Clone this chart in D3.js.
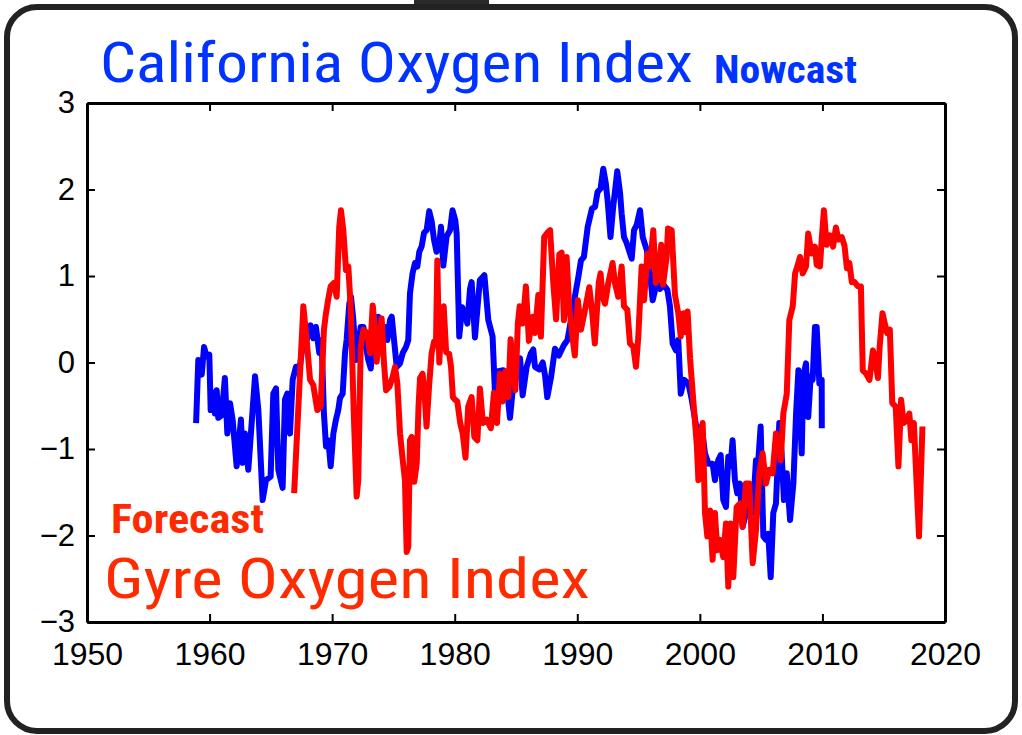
<!DOCTYPE html>
<html>
<head>
<meta charset="utf-8">
<script src="https://cdn.jsdelivr.net/npm/d3@7/dist/d3.min.js"></script>
<style>
  html, body { margin: 0; padding: 0; background: #ffffff; }
  svg { display: block; }
</style>
</head>
<body>
<svg id="chart" width="1022" height="735"></svg>
<script>
// California Oxygen Index (nowcast), year and index value
const californiaYears = [
  1958.9, 1959.08, 1959.36, 1959.55, 1959.76, 1959.98, 1960.09, 1960.3, 1960.44, 1960.58,
  1960.71, 1960.98, 1961.25, 1961.45, 1961.67, 1961.88, 1962.21, 1962.56, 1962.7, 1962.89,
  1963.16, 1963.71, 1963.98, 1964.33, 1964.6, 1964.98, 1965.2, 1965.42, 1965.61, 1965.96,
  1966.15, 1966.34, 1966.56, 1966.78, 1967.05, 1967.37, 1967.65, 1967.92, 1968.24, 1968.46,
  1968.68, 1968.95, 1969.14, 1969.33, 1969.5, 1969.69, 1969.88, 1970.1, 1970.31, 1970.5,
  1970.64, 1970.86, 1971.05, 1971.18, 1971.4, 1971.54, 1971.73, 1971.95, 1972.13, 1972.33,
  1972.55, 1972.76, 1972.95, 1973.15, 1973.36, 1973.63, 1973.77, 1973.96, 1974.12, 1974.31,
  1974.5, 1974.72, 1974.86, 1975.05, 1975.27, 1975.54, 1975.76, 1976.03, 1976.21, 1976.35,
  1976.56, 1976.76, 1976.95, 1977.11, 1977.3, 1977.5, 1977.71, 1977.92, 1978.12, 1978.31,
  1978.52, 1978.74, 1978.88, 1979.07, 1979.34, 1979.62, 1979.82, 1980.05, 1980.16, 1980.37,
  1980.6, 1980.85, 1981.03, 1981.25, 1981.38, 1981.52, 1981.65, 1982.05, 1982.42, 1982.74,
  1983.09, 1983.28, 1983.55, 1983.96, 1984.24, 1984.51, 1984.8, 1985.1, 1985.33, 1985.54,
  1985.87, 1986.2, 1986.41, 1986.55, 1986.9, 1987.18, 1987.37, 1987.55, 1987.87, 1988.18,
  1988.5, 1988.9, 1989.2, 1989.53, 1989.75, 1990.1, 1990.3, 1990.54, 1990.85, 1991.2,
  1991.45, 1991.65, 1991.9, 1992.12, 1992.33, 1992.47, 1992.71, 1992.93, 1993.26, 1993.49,
  1993.62, 1993.81, 1994.03, 1994.44, 1994.63, 1994.85, 1995.12, 1995.34, 1995.67, 1995.93,
  1996.15, 1996.48, 1996.75, 1997.02, 1997.35, 1997.56, 1997.78, 1998.05, 1998.24, 1998.44,
  1998.71, 1999.06, 1999.34, 1999.61, 1999.88, 2000.15, 2000.42, 2000.7, 2001.04, 2001.23,
  2001.5, 2001.7, 2001.91, 2002.13, 2002.32, 2002.51, 2002.67, 2002.86, 2003.05, 2003.27,
  2003.49, 2003.76, 2004.03, 2004.31, 2004.58, 2004.77, 2004.96, 2005.18, 2005.39, 2005.58,
  2005.78, 2005.99, 2006.21, 2006.48, 2006.67, 2006.86, 2007.09, 2007.36, 2007.63, 2007.85,
  2008.04, 2008.31, 2008.44, 2008.66, 2008.84, 2009.04, 2009.2, 2009.39, 2009.53, 2009.75,
  2009.94, 2009.95
];
const californiaValues = [
  -0.70, 0.03, -0.14, 0.18, 0.07, 0.09, -0.55, -0.35, -0.59, -0.32,
  -0.64, -0.61, -0.18, -0.82, -0.47, -0.66, -1.20, -0.66, -1.16, -0.82,
  -1.24, -0.16, -0.55, -1.59, -1.36, -1.32, -0.36, -0.30, -1.24, -1.45,
  -0.43, -0.36, -0.82, -0.20, -0.05, -0.05, 0.26, 0.26, 0.43, 0.28,
  0.41, 0.11, 0.26, -0.59, -0.97, -0.90, -1.20, -0.82, -0.66, -0.55,
  -0.41, -0.36, 0.11, 0.26, 0.68, 0.76, 0.49, 0.03, 0.18, 0.41,
  0.41, 0.18, 0.03, -0.07, 0.26, 0.34, 0.53, 0.38, 0.26, 0.41,
  0.26, 0.49, 0.53, 0.26, -0.05, -0.01, 0.11, 0.18, 0.26, 0.80,
  1.03, 1.15, 1.11, 1.28, 1.34, 1.50, 1.53, 1.75, 1.63, 1.42,
  1.28, 1.36, 1.57, 1.12, 1.46, 1.53, 1.76, 1.64, 1.49, 0.30,
  0.64, 0.55, 0.45, 0.85, 0.93, 0.61, 0.29, 0.95, 1.01, 0.49,
  0.30, -0.34, -0.10, -0.09, -0.28, -0.64, -0.22, -0.15, 0.05, -0.38,
  -0.05, 0.10, 0.15, -0.05, -0.08, 0.00, -0.15, -0.40, -0.16, 0.16,
  0.08, 0.20, 0.26, 0.53, 0.72, 1.00, 1.18, 1.22, 1.57, 1.78,
  1.80, 1.97, 2.01, 2.24, 2.07, 1.88, 1.45, 1.80, 2.21, 1.96,
  1.72, 1.45, 1.38, 1.20, 1.53, 1.59, 1.76, 1.45, 1.30, 1.03,
  0.72, 0.92, 0.85, 0.90, 0.84, 0.65, 0.22, 0.14, 0.26, -0.36,
  -0.20, -0.24, -0.43, -0.66, -0.90, -0.74, -1.05, -1.17, -1.17, -1.36,
  -1.13, -1.07, -1.59, -1.67, -1.09, -1.20, -0.90, -1.36, -1.51, -1.40,
  -1.90, -1.74, -1.51, -1.74, -1.13, -1.13, -0.74, -2.01, -2.05, -1.98,
  -2.48, -1.74, -1.63, -0.70, -1.05, -1.59, -1.28, -1.82, -1.40, -0.59,
  -0.09, -1.05, -0.16, -0.01, -0.63, -0.16, -0.20, 0.41, 0.41, -0.24,
  -0.20, -0.76
];

// Gyre Oxygen Index (forecast), year and index value
const gyreYears = [
  1966.9, 1967.65, 1967.92, 1968.2, 1968.46, 1968.79, 1969.06, 1969.33, 1969.5, 1969.69,
  1969.88, 1970.15, 1970.37, 1970.58, 1970.72, 1970.91, 1971.13, 1971.32, 1971.51, 1971.78,
  1972.0, 1972.13, 1972.33, 1972.55, 1972.87, 1973.09, 1973.31, 1973.5, 1973.63, 1973.85,
  1974.04, 1974.23, 1974.4, 1974.67, 1974.95, 1975.13, 1975.32, 1975.54, 1975.76, 1975.94,
  1976.08, 1976.21, 1976.35, 1976.49, 1976.7, 1976.9, 1977.05, 1977.17, 1977.38, 1977.57,
  1977.7, 1977.92, 1978.12, 1978.31, 1978.47, 1978.58, 1978.74, 1978.93, 1979.1, 1979.3,
  1979.55, 1979.7, 1979.85, 1980.02, 1980.21, 1980.45, 1980.65, 1980.88, 1981.1, 1981.38,
  1981.6, 1981.85, 1982.06, 1982.3, 1982.6, 1982.95, 1983.2, 1983.45, 1983.69, 1983.9,
  1984.15, 1984.37, 1984.56, 1984.78, 1984.95, 1985.15, 1985.3, 1985.54, 1985.81, 1986.05,
  1986.36, 1986.55, 1986.82, 1987.03, 1987.3, 1987.56, 1987.78, 1988.05, 1988.27, 1988.53,
  1988.72, 1988.91, 1989.13, 1989.34, 1989.6, 1989.8, 1990.05, 1990.3, 1990.55, 1990.98,
  1991.2, 1991.43, 1991.75, 1991.9, 1992.07, 1992.26, 1992.53, 1992.88, 1993.07, 1993.34,
  1993.62, 1993.81, 1994.08, 1994.3, 1994.57, 1994.79, 1994.98, 1995.25, 1995.45, 1995.72,
  1995.93, 1996.2, 1996.41, 1996.6, 1996.85, 1997.0, 1997.29, 1997.4, 1997.7, 1997.97,
  1998.24, 1998.44, 1998.66, 1998.87, 1999.0, 1999.2, 1999.47, 1999.75, 1999.88, 2000.07,
  2000.23, 2000.42, 2000.61, 2000.83, 2001.04, 2001.23, 2001.42, 2001.64, 2001.91, 2002.13,
  2002.32, 2002.51, 2002.73, 2003.0, 2003.27, 2003.49, 2003.76, 2004.03, 2004.31, 2004.58,
  2004.85, 2005.12, 2005.39, 2005.66, 2005.94, 2006.21, 2006.4, 2006.6, 2006.81, 2007.09,
  2007.3, 2007.58, 2007.77, 2007.95, 2008.17, 2008.39, 2008.66, 2008.84, 2009.12, 2009.39,
  2009.53, 2009.8, 2009.94, 2010.12, 2010.34, 2010.62, 2010.87, 2011.1, 2011.31, 2011.58,
  2011.8, 2012.0, 2012.2, 2012.4, 2012.62, 2012.9, 2013.14, 2013.29, 2013.57, 2013.84,
  2014.12, 2014.31, 2014.53, 2014.67, 2014.9, 2015.09, 2015.28, 2015.5, 2015.7, 2015.98,
  2016.2, 2016.42, 2016.62, 2016.9, 2017.09, 2017.26, 2017.46, 2017.88, 2018.16
];
const gyreValues = [
  -1.51, 0.65, 0.26, -0.20, -0.26, -0.55, -0.51, 0.38, 0.57, 0.74,
  0.88, 0.92, 0.76, 1.57, 1.76, 1.53, 1.07, 1.11, 0.65, -0.66,
  -1.55, -1.36, 0.18, 0.38, 0.34, 0.11, 0.66, 0.38, 0.01, 0.26,
  0.51, -0.01, -0.32, -0.28, -0.16, -0.05, -0.24, -0.82, -1.13, -1.36,
  -2.19, -2.13, -0.90, -0.86, -1.38, -1.17, -0.50, -0.18, -0.13, -0.43,
  -0.74, -0.25, 0.11, 0.24, 0.20, 1.18, 0.00, 0.50, 0.65, 0.12,
  0.10, -0.05, -0.40, -0.43, -0.45, -0.70, -0.82, -1.10, -0.51, -0.40,
  -0.86, -0.90, -0.30, -0.70, -0.66, -0.76, -0.35, -0.70, -0.13, -0.45,
  -0.10, -0.40, 0.27, -0.08, -0.32, 0.45, 0.65, 0.45, 0.88, 0.25,
  0.53, 0.34, 0.78, 0.30, 1.45, 1.50, 1.53, 0.90, 0.50, 1.25,
  1.27, 0.49, 1.22, 0.65, 0.30, 0.08, 0.72, 0.38, 0.55, 0.87,
  0.60, 0.22, 0.92, 1.03, 0.76, 0.68, 0.92, 1.15, 0.92, 0.76,
  1.11, 0.65, 0.61, 0.22, 0.18, -0.05, 0.30, 1.11, 0.72, 1.26,
  1.11, 1.53, 0.92, 0.99, 1.36, 0.90, 1.22, 1.55, 1.53, 0.78,
  0.57, 0.30, 0.57, 0.35, 0.59, 0.05, -0.45, -0.95, -1.36, -0.82,
  -0.70, -1.74, -2.01, -1.71, -2.28, -1.74, -2.17, -2.05, -2.25, -1.86,
  -2.59, -1.86, -2.48, -1.67, -1.63, -1.90, -1.40, -1.40, -2.32, -1.94,
  -1.28, -1.05, -1.40, -1.24, -1.28, -0.82, -0.93, -1.13, -0.59, -0.36,
  0.49, 0.65, 1.03, 1.11, 1.22, 1.03, 1.11, 1.49, 1.26, 1.34,
  1.13, 1.11, 1.42, 1.76, 1.36, 1.47, 1.34, 1.56, 1.42, 1.45,
  1.35, 1.09, 1.15, 0.93, 0.93, 0.88, 0.88, -0.09, -0.13, -0.20,
  0.14, 0.03, -0.18, 0.18, 0.57, 0.45, 0.34, 0.38, -0.47, -0.51,
  -1.20, -0.43, -0.70, -0.66, -0.59, -0.90, -0.70, -2.01, -0.74
];

// Axis ticks and their labels
const xTicks = [1950, 1960, 1970, 1980, 1990, 2000, 2010, 2020];
const yTicks = [-3, -2, -1, 0, 1, 2, 3];
const yTickLabels = ["\u22123", "\u22122", "\u22121", "0", "1", "2", "3"];

const svg = d3.select("#chart");

// Rounded card behind the chart
svg.append("rect")
  .attr("x", 414).attr("y", 0).attr("width", 75).attr("height", 4)
  .attr("fill", "#2a2a2a");
svg.append("rect")
  .attr("x", 7).attr("y", 7).attr("width", 1008).attr("height", 724)
  .attr("rx", 30).attr("ry", 30)
  .attr("fill", "#ffffff").attr("stroke", "#222222").attr("stroke-width", 6);

const plot = { left: 87, right: 945, top: 103, bottom: 622 };

const x = d3.scaleLinear().domain([1950, 2020]).range([plot.left, plot.right]);
const y = d3.scaleLinear().domain([-3, 3]).range([plot.bottom, plot.top]);

const line = d3.line()
  .x(d => x(d[0]))
  .y(d => y(d[1]));

const californiaSeries = d3.zip(californiaYears, californiaValues);
const gyreSeries = d3.zip(gyreYears, gyreValues);

// Data lines
const lines = svg.append("g");
lines.append("path")
  .datum(californiaSeries)
  .attr("d", line)
  .attr("fill", "none")
  .attr("stroke", "#0000ff")
  .attr("stroke-width", 6)
  .attr("stroke-linejoin", "round")
  .attr("stroke-linecap", "butt");
lines.append("path")
  .datum(gyreSeries)
  .attr("d", line)
  .attr("fill", "none")
  .attr("stroke", "#ff0000")
  .attr("stroke-width", 6)
  .attr("stroke-linejoin", "round")
  .attr("stroke-linecap", "butt");

// Axes: inward ticks on all four sides
const tickFont = "'Liberation Sans', Arial, Helvetica, sans-serif";
const yLabel = d => yTickLabels[yTicks.indexOf(d)];

const bottomAxis = svg.append("g")
  .attr("transform", `translate(0,${plot.bottom})`)
  .call(d3.axisBottom(x).tickValues(xTicks).tickFormat(d3.format("d"))
    .tickSizeInner(-8).tickSizeOuter(0).tickPadding(20));
const topAxis = svg.append("g")
  .attr("transform", `translate(0,${plot.top})`)
  .call(d3.axisTop(x).tickValues(xTicks).tickFormat("")
    .tickSizeInner(-8).tickSizeOuter(0));
const leftAxis = svg.append("g")
  .attr("transform", `translate(${plot.left},0)`)
  .call(d3.axisLeft(y).tickValues(yTicks).tickFormat(yLabel)
    .tickSizeInner(-8).tickSizeOuter(0).tickPadding(12));
const rightAxis = svg.append("g")
  .attr("transform", `translate(${plot.right},0)`)
  .call(d3.axisRight(y).tickValues(yTicks).tickFormat("")
    .tickSizeInner(-8).tickSizeOuter(0));

[bottomAxis, topAxis, leftAxis, rightAxis].forEach(g => {
  g.select(".domain").attr("stroke", "#000").attr("stroke-width", 3);
  g.selectAll(".tick line").attr("stroke", "#000").attr("stroke-width", 2);
  g.selectAll(".tick text").attr("fill", "#000").attr("font-family", tickFont);
});
bottomAxis.selectAll(".tick text").attr("font-size", 32);
leftAxis.selectAll(".tick text").attr("font-size", 31);

// Headline labels
const labelFont = "'Liberation Sans Narrow', 'Roboto Condensed', 'Liberation Sans', Arial, sans-serif";
svg.append("text")
  .attr("x", 100).attr("y", 82)
  .attr("font-family", labelFont).attr("font-size", 56)
  .attr("fill", "#0033ff")
  .attr("textLength", 593).attr("lengthAdjust", "spacingAndGlyphs")
  .text("California Oxygen Index");
svg.append("text")
  .attr("x", 714).attr("y", 83)
  .attr("font-family", labelFont).attr("font-size", 39).attr("font-weight", "bold")
  .attr("fill", "#0033ff")
  .attr("textLength", 143).attr("lengthAdjust", "spacingAndGlyphs")
  .text("Nowcast");
svg.append("text")
  .attr("x", 111).attr("y", 533)
  .attr("font-family", labelFont).attr("font-size", 40).attr("font-weight", "bold")
  .attr("fill", "#ff2a00")
  .attr("textLength", 153).attr("lengthAdjust", "spacingAndGlyphs")
  .text("Forecast");
svg.append("text")
  .attr("x", 104).attr("y", 598)
  .attr("font-family", labelFont).attr("font-size", 56)
  .attr("fill", "#ff2a00")
  .attr("textLength", 486).attr("lengthAdjust", "spacingAndGlyphs")
  .text("Gyre Oxygen Index");
</script>
</body>
</html>
